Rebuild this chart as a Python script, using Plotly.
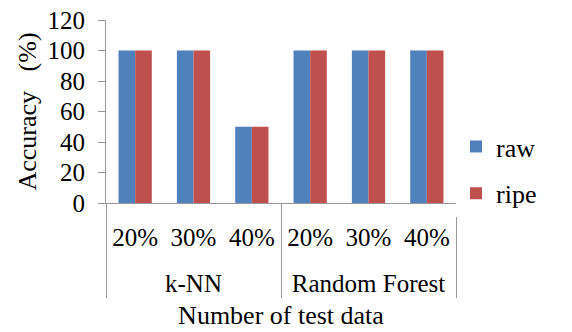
import plotly.graph_objects as go

methods = ["k-NN", "k-NN", "k-NN", "Random Forest", "Random Forest", "Random Forest"]
splits = ["20%", "30%", "40%", "20%", "30%", "40%"]
raw = [100, 100, 50, 100, 100, 100]
ripe = [100, 100, 50, 100, 100, 100]

font = "Liberation Serif, Times New Roman, serif"
axis_grey = "#999999"

# invisible, taller hair-space spacer on both sides of the first-level labels
pad = "<span style='font-size:50px;color:rgba(0,0,0,0)'>\u200a</span>"
split_labels = [pad + s + pad for s in splits]

fig = go.Figure()
fig.add_trace(go.Bar(x=[methods, split_labels], y=raw, name="raw", marker_color="#4F81BD",
                     marker_line_width=0, legendgroup="a"))
fig.add_trace(go.Bar(x=[methods, split_labels], y=ripe, name="ripe", marker_color="#C0504D",
                     marker_line_width=0, legendgroup="b"))

fig.update_layout(
    width=572, height=332,
    margin=dict(l=106, r=116, t=20, b=129, autoexpand=False),
    paper_bgcolor="white", plot_bgcolor="white",
    font=dict(family=font, size=25, color="black"),
    barmode="group", bargap=0.43, bargroupgap=0,
    showlegend=True,
    legend=dict(x=1.0, y=0.18, xanchor="left", yanchor="middle",
                font=dict(family=font, size=26, color="black"),
                tracegroupgap=10, itemwidth=30),
    xaxis=dict(type="multicategory", showline=True, linecolor=axis_grey, linewidth=1,
               ticks="", ticklabelstandoff=12, tickangle=0, automargin=False,
               showdividers=True, dividercolor=axis_grey, dividerwidth=1,
               title=dict(text="Number of test data", standoff=9,
                          font=dict(family=font, size=26, color="black")),
               tickfont=dict(family=font, size=25, color="black")),
    yaxis=dict(range=[0, 120], dtick=20, showline=True, linecolor=axis_grey, linewidth=1,
               ticks="outside", tickcolor=axis_grey, ticklen=7, showgrid=False,
               zeroline=False, ticklabelstandoff=8, automargin=False,
               title=dict(text="Accuracy\u00a0\u00a0 (%)", standoff=3,
                          font=dict(family=font, size=26, color="black")),
               tickfont=dict(family=font, size=25, color="black")),
)

fig.write_html("out.html")
